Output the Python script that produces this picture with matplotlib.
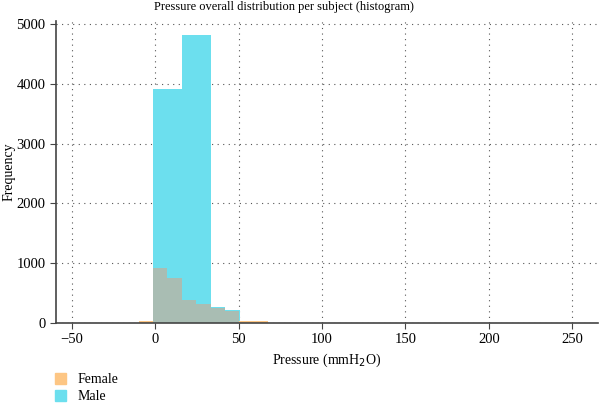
import numpy as np
import matplotlib

matplotlib.use("Agg")

import matplotlib.pyplot as plt
from matplotlib.patches import Patch

# bin edges and counts
female_edges = [-9.8, -1.2, 7.4, 16.0, 24.6, 33.2, 41.8, 50.4, 59.0, 67.6]
female_counts = [40, 925, 750, 385, 320, 258, 195, 40, 40]
male_edges = [-1.2, 16.2, 33.6, 41.8, 51.0]
male_counts = [3920, 4820, 262, 212]

x_ticks = [-50, 0, 50, 100, 150, 200, 250]
y_ticks = [0, 1000, 2000, 3000, 4000, 5000]

cyan = "#6cdfee"
orange = "#fdc684"
overlap = "#a9bdb3"

plt.rcParams["font.family"] = ["Liberation Serif", "DejaVu Serif"]
plt.rcParams["font.size"] = 10.5

fig = plt.figure(figsize=(6.0, 4.05), dpi=100)
ax = fig.add_axes([0.093, 0.2025, 0.904, 0.745])

fe = np.array(female_edges)
fc = np.array(female_counts, dtype=float)
me = np.array(male_edges)
mc = np.array(male_counts, dtype=float)

# male first, then female on top; part of female hidden inside male shows as grey
ax.bar(me[:-1], mc, width=np.diff(me), align="edge", color=cyan, linewidth=0)
ax.bar(fe[:-1], fc, width=np.diff(fe), align="edge", color=orange, linewidth=0)

centers = (fe[:-1] + fe[1:]) / 2
idx = np.searchsorted(me, centers) - 1
inside = (idx >= 0) & (idx < len(mc))
male_here = np.where(inside, mc[np.clip(idx, 0, len(mc) - 1)], 0)
ov = np.minimum(fc, male_here)
ax.bar(fe[:-1], ov, width=np.diff(fe), align="edge", color=overlap, linewidth=0)

ax.set_xlim(-59.5, 265.5)
ax.set_ylim(0, 5050)
ax.set_xticks(x_ticks)
ax.set_yticks(y_ticks)
ax.grid(True, linestyle=(0, (1, 4)), color="#555555", linewidth=0.8)
ax.set_axisbelow(True)
for side in ("top", "right"):
    ax.spines[side].set_visible(False)
for side in ("left", "bottom"):
    ax.spines[side].set_color("#444444")
    ax.spines[side].set_linewidth(1.2)
ax.tick_params(direction="out", length=4, color="#444444")

ax.set_title("Pressure overall distribution per subject (histogram)",
             fontsize=9, pad=8, x=0.42)
ax.set_xlabel("Pressure (mmH$_2$O)", fontsize=10)
ax.set_ylabel("Frequency", fontsize=10)
ax.yaxis.set_label_coords(-0.074, 0.5)

handles = [Patch(color=orange, label="Female"), Patch(color=cyan, label="Male")]
fig.legend(handles=handles, loc="upper left", bbox_to_anchor=(0.083, 0.092),
           frameon=False, handlelength=0.8, handleheight=0.8,
           handletextpad=0.8, labelspacing=0.25, borderaxespad=0, fontsize=10)

fig.savefig("out.png", dpi=100)
